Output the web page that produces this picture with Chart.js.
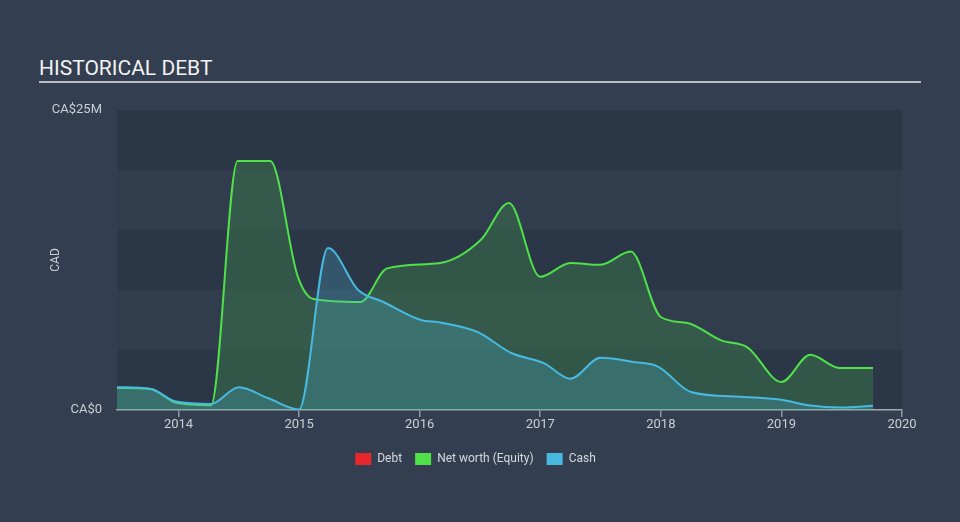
<!DOCTYPE html>
<html>
<head>
<meta charset="utf-8">
<script src="https://cdn.jsdelivr.net/npm/chart.js@4.4.1/dist/chart.umd.min.js"></script>
<style>
  html, body { margin: 0; padding: 0; background: #333f50; }
  #wrap { position: relative; width: 960px; height: 522px; overflow: hidden; }
  #title {
    position: absolute; left: 39px; top: 56px;
    font: 21px Roboto, sans-serif; color: #f2f2f2;
  }
  #rule { position: absolute; left: 39px; top: 81px; width: 882px; height: 2px; background: #b9bec6; }
  canvas { position: absolute; left: 0; top: 0; }
</style>
</head>
<body>
<div id="wrap">
  <div id="title">HISTORICAL DEBT</div>
  <div id="rule"></div>
  <canvas id="chart" width="960" height="522"></canvas>
</div>
<script>
// --- Data (values in CA$ millions, dates as decimal years) ---
const yearTicks = [2014, 2015, 2016, 2017, 2018, 2019, 2020];
const yTickLabels = { 0: 'CA$0', 25: 'CA$25M' };

const debtDates  = [];
const debtValues = [];

const netWorthDates  = [2013.49, 2013.77, 2013.98, 2014.27, 2014.49, 2014.76, 2014.99, 2015.12, 2015.51, 2015.73,
                        2016.17, 2016.51, 2016.74, 2017.0, 2017.25, 2017.5, 2017.75, 2018.0, 2018.22, 2018.5,
                        2018.72, 2019.0, 2019.24, 2019.48, 2019.76];
const netWorthValues = [1.83, 1.75, 0.6, 0.4, 20.75, 20.75, 11.1, 9.25, 9.0, 11.8,
                        12.25, 14.2, 17.25, 11.1, 12.25, 12.1, 13.2, 7.75, 7.25, 5.8,
                        5.2, 2.33, 4.6, 3.5, 3.5];

const cashDates  = [2013.49, 2013.77, 2013.98, 2014.27, 2014.5, 2014.74, 2015.0, 2015.24, 2015.49, 2015.7,
                    2016.01, 2016.17, 2016.48, 2016.76, 2017.03, 2017.25, 2017.5, 2017.78, 2017.98, 2018.25,
                    2018.66, 2019.0, 2019.22, 2019.49, 2019.76];
const cashValues = [1.9, 1.75, 0.7, 0.5, 1.9, 1.0, 0.05, 13.5, 10.0, 9.0,
                    7.5, 7.3, 6.5, 4.75, 3.9, 2.6, 4.35, 4.0, 3.6, 1.5,
                    1.1, 0.85, 0.4, 0.2, 0.35];

const toPoints = (xs, ys) => xs.map((x, i) => ({ x, y: ys[i] }));

// alternating horizontal bands behind the plot
const bandsPlugin = {
  id: 'bands',
  beforeDraw(chart) {
    const { ctx, chartArea: a, scales: { y } } = chart;
    ctx.save();
    for (let v = 0, i = 0; v < 25; v += 5, i++) {
      const top = y.getPixelForValue(v + 5), bot = y.getPixelForValue(v);
      ctx.fillStyle = i % 2 === 0 ? 'rgba(20,28,40,0.22)' : 'rgba(20,28,40,0.05)';
      ctx.fillRect(a.left, top, a.right - a.left, bot - top);
    }
    ctx.restore();
  }
};

const font = { family: 'Roboto, sans-serif', size: 13 };

new Chart(document.getElementById('chart'), {
  type: 'line',
  data: {
    datasets: [
      {
        label: 'Debt',
        data: toPoints(debtDates, debtValues),
        borderColor: '#e8272c',
        backgroundColor: '#e8272c',
        order: 2,
      },
      {
        label: 'Net worth (Equity)',
        data: toPoints(netWorthDates, netWorthValues),
        borderColor: '#50e04a',
        backgroundColor: 'rgba(76,217,76,0.2)',
        fill: 'origin',
        order: 1,
      },
      {
        label: 'Cash',
        data: toPoints(cashDates, cashValues),
        borderColor: '#48b9e0',
        backgroundColor: 'rgba(74,184,220,0.25)',
        fill: 'origin',
        order: 0,
      }
    ]
  },
  options: {
    responsive: false,
    animation: false,
    layout: { padding: { left: 49, right: 58, top: 110, bottom: 47 } },
    elements: {
      point: { radius: 0 },
      line: { borderWidth: 2, cubicInterpolationMode: 'monotone' }
    },
    plugins: {
      tooltip: { enabled: false },
      legend: {
        position: 'bottom',
        labels: {
          generateLabels(chart) {
            return chart.data.datasets.map((d, i) => ({
              text: d.label, fillStyle: d.borderColor, strokeStyle: d.borderColor,
              lineWidth: 0, datasetIndex: i, fontColor: '#d5d9df'
            }));
          },
          boxWidth: 16, boxHeight: 12, padding: 13,
          color: '#d5d9df',
          font: { family: 'Roboto, sans-serif', size: 12 }
        }
      }
    },
    scales: {
      x: {
        type: 'linear',
        min: 2013.49,
        max: 2020,
        afterBuildTicks(scale) { scale.ticks = yearTicks.map(v => ({ value: v })); },
        afterFit(scale) { scale.height = 30; },
        grid: { display: true, drawOnChartArea: false, drawTicks: true, tickLength: 7, color: '#8f98a6', lineWidth: 1.5 },
        border: { display: true, color: '#a3a6b0', width: 1.5 },
        ticks: {
          color: '#c9ced6', padding: 0, font,
          callback: v => String(v)
        }
      },
      y: {
        min: 0,
        max: 25,
        afterBuildTicks(scale) { scale.ticks = [0, 25].map(v => ({ value: v })); },
        afterFit(scale) { scale.width = 68; },
        grid: { display: false },
        border: { display: false },
        title: {
          display: true, text: 'CAD', color: '#c9ced6', padding: 0,
          font: { family: 'Roboto, sans-serif', size: 12 }
        },
        ticks: {
          color: '#c9ced6', padding: 7, font,
          callback: v => yTickLabels[v]
        }
      }
    }
  },
  plugins: [bandsPlugin]
});
</script>
</body>
</html>
